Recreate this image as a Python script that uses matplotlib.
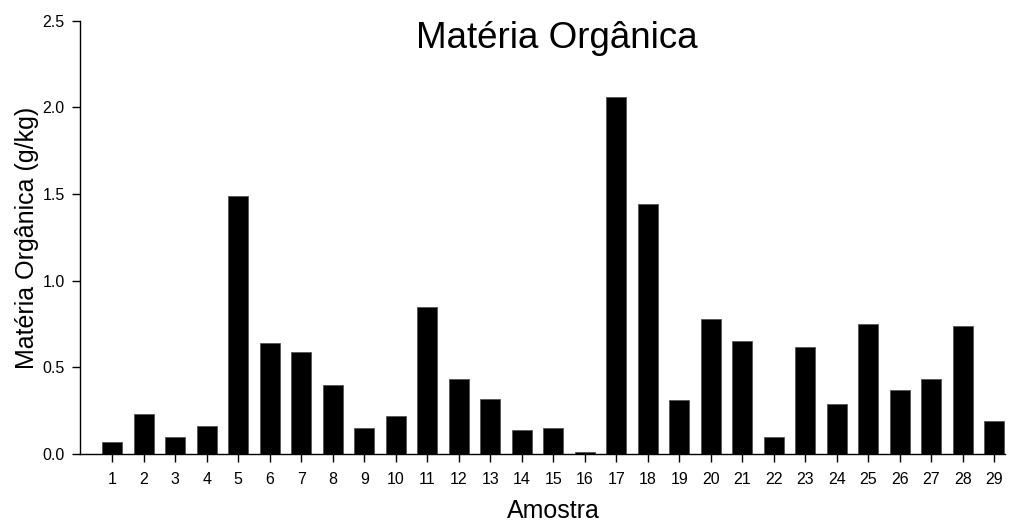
import numpy as np
import matplotlib.pyplot as plt

plt.rcParams['font.family'] = ['Liberation Sans', 'DejaVu Sans']

# amostras e valores de materia organica (g/kg)
amostras = list(range(1, 30))
materia_organica = [0.07, 0.23, 0.10, 0.16, 1.49, 0.64, 0.59, 0.40, 0.15, 0.22,
                    0.85, 0.43, 0.32, 0.14, 0.15, 0.01, 2.06, 1.44, 0.31, 0.78,
                    0.65, 0.10, 0.62, 0.29, 0.75, 0.37, 0.43, 0.74, 0.19]
yticks = [0.0, 0.5, 1.0, 1.5, 2.0, 2.5]

fig = plt.figure(figsize=(10.16, 5.22), dpi=100)
ax = fig.add_axes([0.0787, 0.1303, 0.9103, 0.83])

ax.bar(amostras, materia_organica, width=0.63, color='black',
       edgecolor='#555555', linewidth=0.6)

ax.set_xlim(-0.02, 29.33)
ax.set_ylim(0, 2.5)
ax.set_xticks(amostras)
ax.set_xticklabels([str(a) for a in amostras], fontsize=11.5)
ax.set_yticks(yticks)
ax.set_yticklabels(['%.1f' % v for v in yticks], fontsize=11.5)

ax.spines['top'].set_visible(False)
ax.spines['right'].set_visible(False)
ax.spines['left'].set_linewidth(1.0)
ax.spines['bottom'].set_linewidth(1.0)
ax.tick_params(direction='out', length=6, width=1.0)
ax.tick_params(axis='x', pad=7)
ax.tick_params(axis='y', pad=5)

fig.text(0.027, 0.544, 'Matéria Orgânica (g/kg)', fontsize=18, rotation=90,
         ha='center', va='center')
fig.text(0.545, 0.022, 'Amostra', fontsize=18, ha='center', va='center')
fig.text(0.548, 0.927, 'Matéria Orgânica', fontsize=26.5, ha='center', va='center')

fig.savefig('out.png', dpi=100)
